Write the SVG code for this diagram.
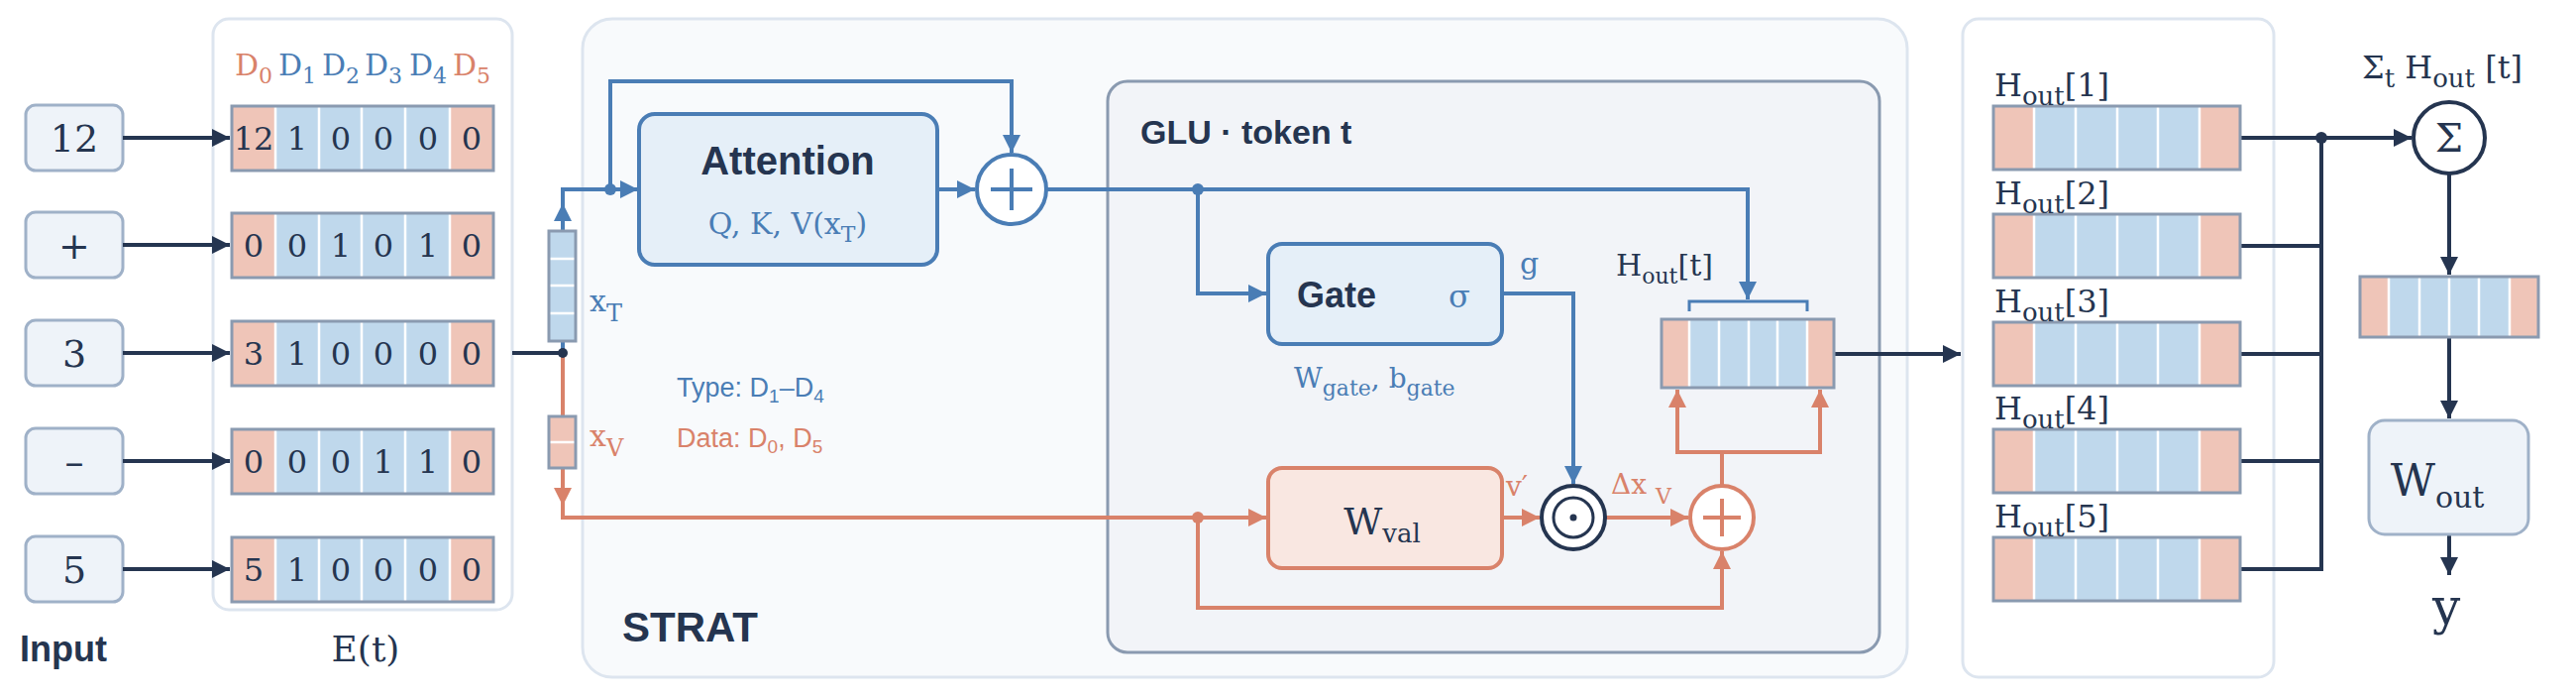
<svg xmlns="http://www.w3.org/2000/svg" width="2600" height="704" viewBox="0 0 2600 704">
<defs>
<style>
.m{font-family:"DejaVu Serif",serif}
.s{font-family:"Liberation Sans",Arial,sans-serif}
.b{font-family:"Liberation Sans",Arial,sans-serif;font-weight:bold;fill:#253550}
.dk{fill:#253550}.bl{fill:#4a7db5}.rd{fill:#d9826a}
.ib{fill:#eef3f9;stroke:#9fb1c8;stroke-width:3}
.cb{fill:#bfd8ec}.cr{fill:#efc5b8}
.sep{stroke:#fff;stroke-width:2.5}
.vo{fill:none;stroke:#8a9ab0;stroke-width:3}
.ln{fill:none;stroke:#253550;stroke-width:4}
.lb{fill:none;stroke:#4a7db5;stroke-width:4}
.lr{fill:none;stroke:#d9826a;stroke-width:4}
</style>
<marker id="ad" viewBox="0 0 10 10" refX="10" refY="5" markerWidth="4.5" markerHeight="4.5" orient="auto"><path d="M0,0L10,5L0,10z" fill="#253550"/></marker>
<marker id="ab" viewBox="0 0 10 10" refX="10" refY="5" markerWidth="4.5" markerHeight="4.5" orient="auto"><path d="M0,0L10,5L0,10z" fill="#4a7db5"/></marker>
<marker id="ar" viewBox="0 0 10 10" refX="10" refY="5" markerWidth="4.5" markerHeight="4.5" orient="auto"><path d="M0,0L10,5L0,10z" fill="#d9826a"/></marker>
</defs>
<rect width="2600" height="704" fill="#fff"/>

<!-- panels -->
<g id="embed-panel"><rect x="215" y="19" width="302" height="596" rx="16" fill="#fff" stroke="#dde5ef" stroke-width="3"/></g>
<g id="strat-panel"><rect x="588" y="19" width="1337" height="664" rx="30" fill="#f8fafc" stroke="#dde5ef" stroke-width="3"/>
<text class="b" x="628" y="647" font-size="42">STRAT</text></g>
<g id="glu-panel"><rect x="1118" y="82" width="779" height="576" rx="20" fill="#f2f4f8" stroke="#8a9ab0" stroke-width="3"/>
<text class="b" x="1151" y="145" font-size="34">GLU · token t</text></g>
<g id="out-panel"><rect x="1981" y="19" width="314" height="664" rx="16" fill="#fff" stroke="#dde5ef" stroke-width="3"/></g>

<!-- inputs -->
<g id="in1"><rect class="ib" x="26" y="106" width="98" height="66" rx="10"/><text class="m dk" x="75" y="153" font-size="38" text-anchor="middle">12</text></g>
<g id="in2"><rect class="ib" x="26" y="214" width="98" height="66" rx="10"/><text class="m dk" x="75" y="261" font-size="38" text-anchor="middle">+</text></g>
<g id="in3"><rect class="ib" x="26" y="323" width="98" height="66" rx="10"/><text class="m dk" x="75" y="370" font-size="38" text-anchor="middle">3</text></g>
<g id="in4"><rect class="ib" x="26" y="432" width="98" height="66" rx="10"/><text class="m dk" x="75" y="479" font-size="38" text-anchor="middle">–</text></g>
<g id="in5"><rect class="ib" x="26" y="541" width="98" height="66" rx="10"/><text class="m dk" x="75" y="588" font-size="38" text-anchor="middle">5</text></g>
<text class="b" x="20" y="667" font-size="36">Input</text>
<text class="m dk" x="369" y="667" font-size="36" text-anchor="middle">E(t)</text>

<!-- D headers -->
<g class="m" font-size="30">
<text x="256" y="76" text-anchor="middle" class="rd">D<tspan font-size="22" dy="8">0</tspan></text>
<text x="300" y="76" text-anchor="middle" class="bl">D<tspan font-size="22" dy="8">1</tspan></text>
<text x="344" y="76" text-anchor="middle" class="bl">D<tspan font-size="22" dy="8">2</tspan></text>
<text x="387" y="76" text-anchor="middle" class="bl">D<tspan font-size="22" dy="8">3</tspan></text>
<text x="432" y="76" text-anchor="middle" class="bl">D<tspan font-size="22" dy="8">4</tspan></text>
<text x="476" y="76" text-anchor="middle" class="rd">D<tspan font-size="22" dy="8">5</tspan></text>
</g>

<!-- embedding vectors -->
<g id="emb1"><rect class="cr" x="234" y="107" width="44" height="65"/><rect class="cb" x="278" y="107" width="176" height="65"/><rect class="cr" x="454" y="107" width="44" height="65"/><path class="sep" d="M278,108V171M322,108V171M365,108V171M409,108V171M454,108V171"/><rect class="vo" x="234" y="107" width="264" height="65"/>
<g class="m dk" font-size="32" text-anchor="middle"><text x="256" y="151">12</text><text x="300" y="151">1</text><text x="344" y="151">0</text><text x="387" y="151">0</text><text x="432" y="151">0</text><text x="476" y="151">0</text></g></g>
<g id="emb2"><rect class="cr" x="234" y="215" width="44" height="65"/><rect class="cb" x="278" y="215" width="176" height="65"/><rect class="cr" x="454" y="215" width="44" height="65"/><path class="sep" d="M278,216V279M322,216V279M365,216V279M409,216V279M454,216V279"/><rect class="vo" x="234" y="215" width="264" height="65"/>
<g class="m dk" font-size="32" text-anchor="middle"><text x="256" y="259">0</text><text x="300" y="259">0</text><text x="344" y="259">1</text><text x="387" y="259">0</text><text x="432" y="259">1</text><text x="476" y="259">0</text></g></g>
<g id="emb3"><rect class="cr" x="234" y="324" width="44" height="65"/><rect class="cb" x="278" y="324" width="176" height="65"/><rect class="cr" x="454" y="324" width="44" height="65"/><path class="sep" d="M278,325V388M322,325V388M365,325V388M409,325V388M454,325V388"/><rect class="vo" x="234" y="324" width="264" height="65"/>
<g class="m dk" font-size="32" text-anchor="middle"><text x="256" y="368">3</text><text x="300" y="368">1</text><text x="344" y="368">0</text><text x="387" y="368">0</text><text x="432" y="368">0</text><text x="476" y="368">0</text></g></g>
<g id="emb4"><rect class="cr" x="234" y="433" width="44" height="65"/><rect class="cb" x="278" y="433" width="176" height="65"/><rect class="cr" x="454" y="433" width="44" height="65"/><path class="sep" d="M278,434V497M322,434V497M365,434V497M409,434V497M454,434V497"/><rect class="vo" x="234" y="433" width="264" height="65"/>
<g class="m dk" font-size="32" text-anchor="middle"><text x="256" y="477">0</text><text x="300" y="477">0</text><text x="344" y="477">0</text><text x="387" y="477">1</text><text x="432" y="477">1</text><text x="476" y="477">0</text></g></g>
<g id="emb5"><rect class="cr" x="234" y="542" width="44" height="65"/><rect class="cb" x="278" y="542" width="176" height="65"/><rect class="cr" x="454" y="542" width="44" height="65"/><path class="sep" d="M278,543V606M322,543V606M365,543V606M409,543V606M454,543V606"/><rect class="vo" x="234" y="542" width="264" height="65"/>
<g class="m dk" font-size="32" text-anchor="middle"><text x="256" y="586">5</text><text x="300" y="586">1</text><text x="344" y="586">0</text><text x="387" y="586">0</text><text x="432" y="586">0</text><text x="476" y="586">0</text></g></g>

<!-- connectors -->
<g id="connectors">
<path class="ln" marker-end="url(#ad)" d="M124,139H232"/>
<path class="ln" marker-end="url(#ad)" d="M124,247H232"/>
<path class="ln" marker-end="url(#ad)" d="M124,356H232"/>
<path class="ln" marker-end="url(#ad)" d="M124,465H232"/>
<path class="ln" marker-end="url(#ad)" d="M124,574H232"/>
<path class="ln" d="M517,356H568"/>
<path class="lb" marker-end="url(#ab)" d="M568,356V205"/>
<path class="lb" d="M568,233V191H616"/>
<path class="lr" marker-end="url(#ar)" d="M568,356V510"/>
<path class="lr" d="M568,470V522H1209"/>
<path class="lb" marker-end="url(#ab)" d="M616,191H644"/>
<path class="lb" marker-end="url(#ab)" d="M616,191V82H1021V154"/>
<path class="lb" marker-end="url(#ab)" d="M946,191H984"/>
<path class="lb" d="M1056,191H1209"/>
<path class="lb" marker-end="url(#ab)" d="M1209,191H1764V302"/>
<path class="lb" marker-end="url(#ab)" d="M1209,191V296H1278"/>
<path class="lb" marker-end="url(#ab)" d="M1516,296H1588V488"/>
<path class="lr" marker-end="url(#ar)" d="M1209,522H1278"/>
<path class="lr" marker-end="url(#ar)" d="M1209,522V613H1738V556"/>
<path class="lr" marker-end="url(#ar)" d="M1516,522H1554"/>
<path class="lr" marker-end="url(#ar)" d="M1620,522H1704"/>
<path class="lr" marker-end="url(#ar)" d="M1738,490V456H1693V393"/>
<path class="lr" marker-end="url(#ar)" d="M1738,456H1837V393"/>
<path class="ln" marker-end="url(#ad)" d="M1851,357H1979"/>
<path class="ln" d="M2261,248H2343M2261,357H2343M2261,465H2343M2261,574H2343V139"/>
<path class="ln" marker-end="url(#ad)" d="M2261,139H2434"/>
<path class="ln" marker-end="url(#ad)" d="M2472,175V277"/>
<path class="ln" marker-end="url(#ad)" d="M2472,340V422"/>
<path class="ln" marker-end="url(#ad)" d="M2472,539V580"/>
<circle cx="568" cy="356" r="5" fill="#253550"/>
<circle cx="616" cy="191" r="6" fill="#4a7db5"/>
<circle cx="1209" cy="191" r="6" fill="#4a7db5"/>
<circle cx="1209" cy="522" r="6" fill="#d9826a"/>
<circle cx="2343" cy="139" r="6" fill="#253550"/>
</g>

<!-- xT / xV -->
<g id="xT"><rect class="cb" x="554" y="233" width="27" height="111"/><path class="sep" d="M555,261H580M555,288H580M555,316H580"/><rect class="vo" x="554" y="233" width="27" height="111"/>
<text class="m bl" x="595" y="314" font-size="30">x<tspan font-size="24" dy="10">T</tspan></text></g>
<g id="xV"><rect class="cr" x="554" y="420" width="27" height="52"/><path class="sep" d="M555,446H580"/><rect class="vo" x="554" y="420" width="27" height="52"/>
<text class="m rd" x="595" y="450" font-size="30">x<tspan font-size="24" dy="10">V</tspan></text></g>
<g id="legend" class="s" font-size="27">
<text class="bl" x="683" y="400">Type: D<tspan font-size="19" dy="6">1</tspan><tspan dy="-6">–D</tspan><tspan font-size="19" dy="6">4</tspan></text>
<text class="rd" x="683" y="451">Data: D<tspan font-size="19" dy="6">0</tspan><tspan dy="-6">, D</tspan><tspan font-size="19" dy="6">5</tspan></text>
</g>

<!-- attention -->
<g id="attention"><rect x="645" y="115" width="301" height="152" rx="16" fill="#e5eff8" stroke="#4a7db5" stroke-width="4"/>
<text class="b" x="795" y="176" font-size="40" text-anchor="middle">Attention</text>
<text class="m bl" x="795" y="236" font-size="30" text-anchor="middle">Q, K, V(x<tspan font-size="22" dy="8">T</tspan><tspan dy="-8">)</tspan></text></g>
<g id="add1"><circle cx="1021" cy="191" r="35" fill="#fff" stroke="#4a7db5" stroke-width="4"/><path d="M1000,191H1042M1021,170V212" stroke="#4a7db5" stroke-width="4"/></g>

<!-- gate -->
<g id="gate"><rect x="1280" y="246" width="236" height="101" rx="14" fill="#e5eff8" stroke="#4a7db5" stroke-width="4"/>
<text class="b" x="1309" y="310" font-size="36">Gate</text>
<text class="m bl" x="1462" y="310" font-size="32">σ</text>
<text class="m bl" x="1534" y="276" font-size="30">g</text>
<text class="m bl" x="1306" y="391" font-size="28">W<tspan font-size="22" dy="8">gate</tspan><tspan dy="-8">,  b</tspan><tspan font-size="22" dy="8">gate</tspan></text></g>
<g id="wval"><rect x="1280" y="472" width="236" height="101" rx="14" fill="#f9e7e1" stroke="#d9826a" stroke-width="4"/>
<text class="m dk" x="1395" y="539" font-size="38" text-anchor="middle">W<tspan font-size="26" dy="8">val</tspan></text>
<text class="m rd" x="1520" y="500" font-size="28">v′</text></g>
<g id="odot"><circle cx="1588" cy="522" r="32" fill="#fff" stroke="#253550" stroke-width="4"/><circle cx="1588" cy="522" r="20" fill="none" stroke="#253550" stroke-width="3"/><circle cx="1588" cy="522" r="3.5" fill="#253550"/></g>
<text class="m rd" x="1626" y="498" font-size="28">Δx <tspan font-size="22" dy="10">V</tspan></text>
<g id="add2"><circle cx="1738" cy="522" r="32" fill="#fff" stroke="#d9826a" stroke-width="4"/><path d="M1719,522H1757M1738,503V541" stroke="#d9826a" stroke-width="4"/></g>

<!-- Hout[t] -->
<g id="hout-t"><rect class="cr" x="1677" y="322" width="28" height="69"/><rect class="cb" x="1705" y="322" width="119" height="69"/><rect class="cr" x="1824" y="322" width="27" height="69"/><path class="sep" d="M1705,323V390M1735,323V390M1765,323V390M1794,323V390M1824,323V390"/><rect class="vo" x="1677" y="322" width="174" height="69"/>
<path d="M1705,314V304H1824V314" fill="none" stroke="#4a7db5" stroke-width="3"/>
<text class="m dk" x="1631" y="278" font-size="30">H<tspan font-size="22" dy="8">out</tspan><tspan dy="-8">[t]</tspan></text></g>

<!-- outputs -->
<g id="h1"><rect class="cr" x="2012" y="107" width="41" height="64"/><rect class="cb" x="2053" y="107" width="167" height="64"/><rect class="cr" x="2220" y="107" width="41" height="64"/><path class="sep" d="M2053,108V170M2095,108V170M2137,108V170M2178,108V170M2220,108V170"/><rect class="vo" x="2012" y="107" width="249" height="64"/><text class="m dk" x="2013" y="97" font-size="32">H<tspan font-size="26" dy="9">out</tspan><tspan dy="-9">[1]</tspan></text></g>
<g id="h2"><rect class="cr" x="2012" y="216" width="41" height="64"/><rect class="cb" x="2053" y="216" width="167" height="64"/><rect class="cr" x="2220" y="216" width="41" height="64"/><path class="sep" d="M2053,217V279M2095,217V279M2137,217V279M2178,217V279M2220,217V279"/><rect class="vo" x="2012" y="216" width="249" height="64"/><text class="m dk" x="2013" y="206" font-size="32">H<tspan font-size="26" dy="9">out</tspan><tspan dy="-9">[2]</tspan></text></g>
<g id="h3"><rect class="cr" x="2012" y="325" width="41" height="64"/><rect class="cb" x="2053" y="325" width="167" height="64"/><rect class="cr" x="2220" y="325" width="41" height="64"/><path class="sep" d="M2053,326V388M2095,326V388M2137,326V388M2178,326V388M2220,326V388"/><rect class="vo" x="2012" y="325" width="249" height="64"/><text class="m dk" x="2013" y="315" font-size="32">H<tspan font-size="26" dy="9">out</tspan><tspan dy="-9">[3]</tspan></text></g>
<g id="h4"><rect class="cr" x="2012" y="433" width="41" height="64"/><rect class="cb" x="2053" y="433" width="167" height="64"/><rect class="cr" x="2220" y="433" width="41" height="64"/><path class="sep" d="M2053,434V496M2095,434V496M2137,434V496M2178,434V496M2220,434V496"/><rect class="vo" x="2012" y="433" width="249" height="64"/><text class="m dk" x="2013" y="423" font-size="32">H<tspan font-size="26" dy="9">out</tspan><tspan dy="-9">[4]</tspan></text></g>
<g id="h5"><rect class="cr" x="2012" y="542" width="41" height="64"/><rect class="cb" x="2053" y="542" width="167" height="64"/><rect class="cr" x="2220" y="542" width="41" height="64"/><path class="sep" d="M2053,543V605M2095,543V605M2137,543V605M2178,543V605M2220,543V605"/><rect class="vo" x="2012" y="542" width="249" height="64"/><text class="m dk" x="2013" y="532" font-size="32">H<tspan font-size="26" dy="9">out</tspan><tspan dy="-9">[5]</tspan></text></g>

<g id="sum"><circle cx="2472" cy="139" r="36" fill="#fff" stroke="#253550" stroke-width="4"/><text class="m dk" x="2472" y="153" font-size="40" text-anchor="middle">Σ</text>
<text class="m dk" x="2384" y="79" font-size="32">Σ<tspan font-size="26" dy="9">t</tspan><tspan dy="-9"> H</tspan><tspan font-size="26" dy="9">out</tspan><tspan dy="-9"> [t]</tspan></text></g>
<g id="sumvec"><rect class="cr" x="2382" y="279" width="29" height="61"/><rect class="cb" x="2411" y="279" width="122" height="61"/><rect class="cr" x="2533" y="279" width="29" height="61"/><path class="sep" d="M2411,280V339M2442,280V339M2472,280V339M2502,280V339M2533,280V339"/><rect class="vo" x="2382" y="279" width="180" height="61"/></g>
<g id="wout"><rect class="ib" x="2391" y="424" width="161" height="115" rx="16"/><text class="m dk" x="2460" y="500" font-size="44" text-anchor="middle">W<tspan font-size="30" dy="12">out</tspan></text></g>
<text class="m dk" x="2469" y="629" font-size="50" text-anchor="middle">y</text>
</svg>
